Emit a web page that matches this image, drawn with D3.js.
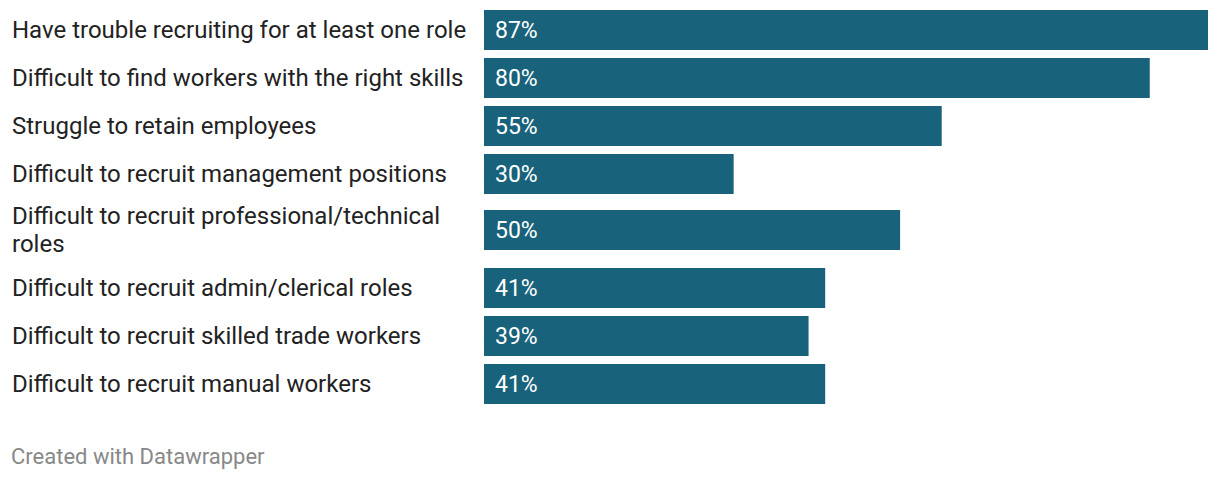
<!DOCTYPE html>
<html>
<head>
<meta charset="utf-8">
<script src="https://cdn.jsdelivr.net/npm/d3@7"></script>
<style>
  html, body { margin: 0; padding: 0; background: #fff; }
  svg { display: block; font-family: Roboto, "Noto Sans", sans-serif; }
</style>
</head>
<body>
<svg id="chart" width="1220" height="480"></svg>
<script>
const categories = [
  "Have trouble recruiting for at least one role",
  "Difficult to find workers with the right skills",
  "Struggle to retain employees",
  "Difficult to recruit management positions",
  "Difficult to recruit professional/technical roles",
  "Difficult to recruit admin/clerical roles",
  "Difficult to recruit skilled trade workers",
  "Difficult to recruit manual workers"
];
const values = [87, 80, 55, 30, 50, 41, 39, 41];
const valueLabels = values.map(v => v + "%");
const footer = "Created with Datawrapper";

const svg = d3.select("#chart");
const labelX = 12, barX0 = 484, barX1 = 1208, labelMaxW = 462;
const barH = 40, gap = 8, lineH = 28, fontSize = 24;

const x = d3.scaleLinear().domain([0, d3.max(values)]).range([barX0, barX1]);

// measure / wrap labels
const measure = svg.append("text").attr("font-size", fontSize).attr("visibility", "hidden");
function wrap(str) {
  const words = str.split(" ");
  const lines = [];
  let cur = "";
  for (const w of words) {
    const test = cur ? cur + " " + w : w;
    measure.text(test);
    if (measure.node().getComputedTextLength() > labelMaxW && cur) {
      lines.push(cur); cur = w;
    } else cur = test;
  }
  if (cur) lines.push(cur);
  return lines;
}
const wrapped = categories.map(wrap);
measure.remove();

// row layout
let rowTop = 10;
const rows = wrapped.map((lines, i) => {
  const multi = lines.length > 1;
  const h = multi ? 56 + (lines.length - 2) * lineH : barH;
  const center = rowTop + h / 2;
  rowTop = rowTop + h + gap + (multi ? 2 : 0);
  return { lines, center, value: values[i], label: valueLabels[i] };
});

const g = svg.append("g");
const row = g.selectAll("g.row").data(rows).join("g").attr("class", "row");

row.append("rect")
  .attr("x", x(0))
  .attr("y", d => d.center - barH / 2)
  .attr("width", d => x(d.value) - x(0))
  .attr("height", barH)
  .attr("fill", "#19627b");

row.append("text")
  .attr("x", x(0) + 11)
  .attr("y", d => d.center)
  .attr("dy", "0.35em")
  .attr("font-size", 23)
  .attr("fill", "#fff")
  .text(d => d.label);

row.each(function(d) {
  const t = d3.select(this).append("text")
    .attr("font-size", fontSize)
    .attr("fill", "#222");
  const n = d.lines.length;
  d.lines.forEach((ln, j) => {
    t.append("tspan")
      .attr("x", labelX)
      .attr("y", d.center + (j - (n - 1) / 2) * lineH)
      .attr("dy", "0.35em")
      .text(ln);
  });
});

svg.append("text")
  .attr("x", 11)
  .attr("y", 464)
  .attr("font-size", 22)
  .attr("fill", "#888")
  .text(footer);
</script>
</body>
</html>
